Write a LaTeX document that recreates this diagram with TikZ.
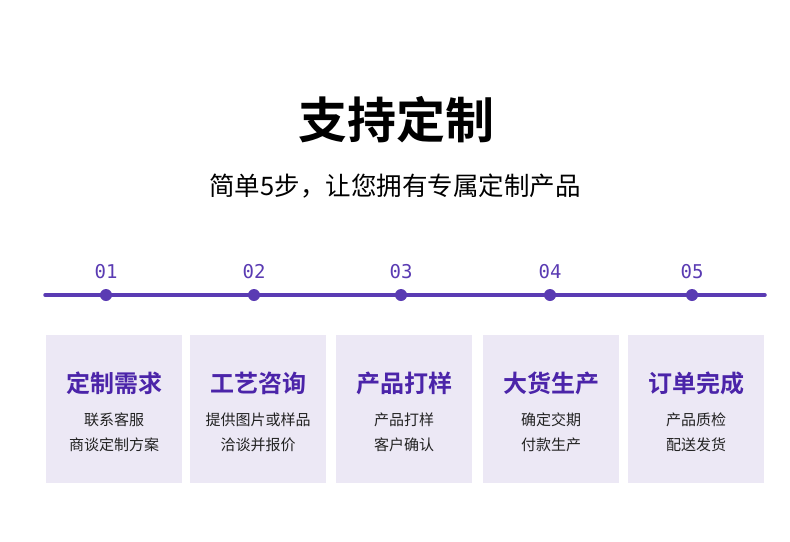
\documentclass[tikz,border=0pt]{standalone}
\usepackage{fontspec}
\newfontfamily\cjk{Noto Sans CJK SC}
\newfontfamily\cjkbold{Noto Sans CJK SC Bold}
\setmonofont{DejaVu Sans Mono}
\definecolor{linepurple}{HTML}{5A3BB3}
\definecolor{headpurple}{HTML}{4B24A9}
\definecolor{boxfill}{HTML}{ECE8F5}
\definecolor{txtdark}{HTML}{222222}
\tikzset{
  step dot/.style={circle,fill=linepurple,inner sep=0pt,minimum size=12pt},
  step num/.style={text=linepurple,font=\ttfamily\fontsize{19}{19}\selectfont},
  step box/.style={fill=boxfill,minimum width=136pt,minimum height=148pt,inner sep=0pt},
  step head/.style={text=headpurple,font=\cjkbold\fontsize{24}{24}\selectfont},
  step body/.style={text=txtdark,font=\cjk\fontsize{15}{15}\selectfont}
}
\begin{document}
\begin{tikzpicture}[x=1pt,y=-1pt]
\useasboundingbox[fill=white] (0,0) rectangle (790,541);

% headings
\node[font=\cjkbold\fontsize{49}{49}\selectfont,text=black] (title) at (396,120) {支持定制};
\node[font=\cjk\fontsize{25.5}{25.5}\selectfont,text=black] (subtitle) at (395,186) {简单5步，让您拥有专属定制产品};

% timeline
\coordinate (lstart) at (45,295);
\coordinate (lend) at (765,295);
\draw[linepurple,line width=3.5pt,line cap=round] (lstart) -- (lend);

\foreach \x/\bx/\n/\head/\la/\lb in {
  106/114/01/定制需求/联系客服/商谈定制方案,
  254/258/02/工艺咨询/提供图片或样品/洽谈并报价,
  401/404/03/产品打样/产品打样/客户确认,
  550/551/04/大货生产/确定交期/付款生产,
  692/696/05/订单完成/产品质检/配送发货} {
  \node[step dot] (dot\n) at (\x,295) {};
  \node[step num] (num\n) at (\x,272) {\n};
  \node[step box] (box\n) at (\bx,409) {};
  \node[step head] (head\n) at (\bx,383) {\head};
  \node[step body] (la\n) at (\bx,420) {\la};
  \node[step body] (lb\n) at (\bx,445) {\lb};
}
\end{tikzpicture}
\end{document}
